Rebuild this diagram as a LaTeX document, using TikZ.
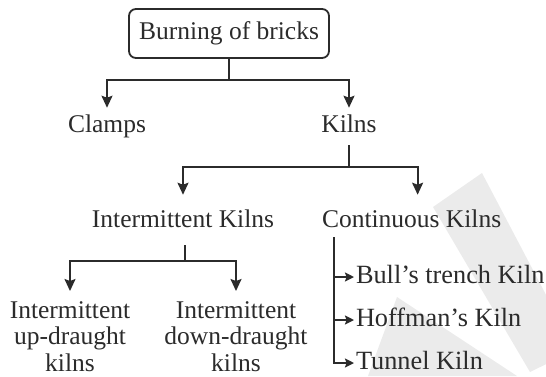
\documentclass[tikz,border=0pt]{standalone}
\usepackage{fontspec}
\setmainfont{Liberation Serif}
\usetikzlibrary{arrows.meta}
\definecolor{ink}{HTML}{2B2B2B}
\definecolor{wm}{HTML}{EBEBEB}
\begin{document}
\begin{tikzpicture}[x=1pt,y=1pt,
  lbl/.style={inner sep=0pt, outer sep=0pt, text=ink, font=\fontsize{25.5}{26.5}\selectfont, anchor=base},
  multi/.style={lbl, align=center, anchor=north},
  listitem/.style={lbl, anchor=base west, text height=12pt, text depth=0pt, font=\fontsize{26.3}{27}\selectfont},
  topbox/.style={draw=ink, line width=1.8pt, rounded corners=7pt, minimum width=200pt, minimum height=49pt, inner sep=0pt, text=ink, font=\fontsize{25.5}{26.5}\selectfont},
  conn/.style={draw=ink, line width=1.8pt},
  bigarrow/.style={conn, -{Stealth[length=12pt,width=11pt,inset=2pt]}},
  smallarrow/.style={conn, -{Stealth[length=9pt,width=9pt,inset=1.5pt]}, shorten >=2pt},
]
\useasboundingbox (0,0) rectangle (546,-376);
% watermark
\begin{scope}
  \clip (0,0) rectangle (546,-376);
  \fill[wm] (482,-173) -- (575,-350) -- (530,-372) -- (433,-207) -- cycle;
  \fill[wm] (397,-297) -- (517,-376) -- (368,-376) -- cycle;
\end{scope}
% nodes
\node[topbox] (root) at (229,-33.5) {Burning of bricks};
\node[lbl] (clamps) at (107,-132) {Clamps};
\node[lbl] (kilns) at (349,-132) {Kilns};
\node[lbl] (ik) at (183,-227) {Intermittent Kilns};
\node[lbl, anchor=base west] (ck) at (322,-227) {Continuous Kilns};
\node[multi] (iu) at (70,-301.6) {Intermittent\\up-draught\\kilns};
\node[multi] (id) at (236,-301.6) {Intermittent\\down-draught\\kilns};
\node[listitem] (bt) at (356,-283) {Bull’s trench Kiln};
\node[listitem] (hk) at (356,-326) {Hoffman’s Kiln};
\node[listitem] (tk) at (356,-369) {Tunnel Kiln};
% connectors
\draw[conn] (root.south) -- ++(0,-21) coordinate (j1);
\draw[bigarrow, shorten >=6.6pt] (j1) -| (clamps.north);
\draw[bigarrow, shorten >=6.6pt] (j1) -| (kilns.north);
\draw[conn] (kilns.south) ++(0,-13) -- ++(0,-22) coordinate (j2);
\draw[bigarrow, shorten >=14.6pt] (j2) -| ([xshift=6pt]ck.north);
\draw[bigarrow, shorten >=14.6pt] (j2) -| (ik.north);
\draw[conn] (ik.south) ++(2,-18) -- ++(0,-16) coordinate (j3);
\draw[bigarrow, shorten >=10.6pt] (j3) -| (iu.north);
\draw[bigarrow, shorten >=10.6pt] (j3) -| (id.north);
\coordinate (c1) at ([xshift=12pt,yshift=-10pt]ck.south west);
\draw[smallarrow] (c1) |- (tk.west);
\draw[smallarrow] (c1 |- bt.west) -- (bt.west);
\draw[smallarrow] (c1 |- hk.west) -- (hk.west);
\end{tikzpicture}
\end{document}
